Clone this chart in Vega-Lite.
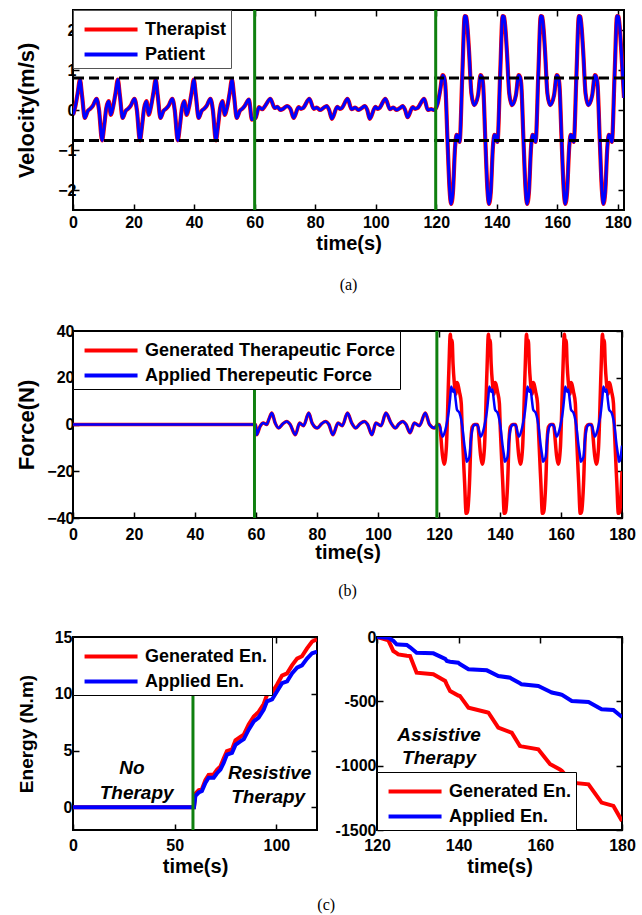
{
"$schema": "https://vega.github.io/schema/vega-lite/v6.json",
"background": "white",
"padding": {"left": 14, "top": 7, "right": 20, "bottom": 5},
"columns": 1,
"align": "none",
"spacing": 28,
"resolve": {"scale": {"color": "independent"}, "legend": {"color": "independent"}},
"config": {
  "view": {"stroke": "black", "strokeWidth": 2},
  "axis": {"labelFont": "Liberation Sans", "labelFontSize": 16, "labelFontWeight": "bold", "labelColor": "black", "titleFont": "Liberation Sans", "titleFontWeight": "bold", "titleColor": "black", "titleFontSize": 20, "domain": false, "grid": false, "tickColor": "black", "tickWidth": 1.5, "tickSize": -6, "labelPadding": 4, "labelFlush": false, "labelOverlap": false},
  "axisX": {"labelPadding": 10, "titlePadding": 3},
  "legend": {"title": null, "offset": 0, "symbolType": "M-0.6,0H3.4", "symbolStrokeWidth": 4, "symbolSize": 702, "labelFont": "Liberation Sans", "labelFontSize": 18, "labelFontWeight": "bold", "labelColor": "black", "labelLimit": 600, "fillColor": "white", "strokeColor": "black", "padding": 4, "rowPadding": -1, "labelOffset": 37},
  "title": {"font": "Liberation Serif", "fontSize": 16, "fontWeight": "normal", "color": "black", "anchor": "middle"}
},
"datasets": {
  "vel": [
    {"t":0,"v":-0.12},{"t":0.8,"v":0.1},{"t":1.6,"v":0.45},{"t":2.3,"v":0.76},{"t":3.0,"v":0.35},{"t":3.9,"v":-0.2},{"t":4.9,"v":-0.02},{"t":5.7,"v":0.03},{"t":6.5,"v":0.1},{"t":7.8,"v":0.28},{"t":8.6,"v":0.0},{"t":9.6,"v":-0.76},{"t":10.3,"v":-0.4},{"t":11.0,"v":0.05},{"t":11.8,"v":0.22},{"t":12.5,"v":-0.12},
    {"t":13.3,"v":0.1},{"t":14.1,"v":0.45},{"t":14.8,"v":0.76},{"t":15.5,"v":0.35},{"t":16.4,"v":-0.2},{"t":17.4,"v":-0.02},{"t":18.2,"v":0.03},{"t":19.0,"v":0.1},{"t":20.3,"v":0.28},{"t":21.1,"v":0.0},{"t":22.1,"v":-0.76},{"t":22.8,"v":-0.4},{"t":23.5,"v":0.05},{"t":24.3,"v":0.22},{"t":25.0,"v":-0.12},
    {"t":25.8,"v":0.1},{"t":26.6,"v":0.45},{"t":27.3,"v":0.76},{"t":28.0,"v":0.35},{"t":28.9,"v":-0.2},{"t":29.9,"v":-0.02},{"t":30.7,"v":0.03},{"t":31.5,"v":0.1},{"t":32.8,"v":0.28},{"t":33.6,"v":0.0},{"t":34.6,"v":-0.76},{"t":35.3,"v":-0.4},{"t":36.0,"v":0.05},{"t":36.8,"v":0.22},{"t":37.5,"v":-0.12},
    {"t":38.4,"v":0.1},{"t":39.2,"v":0.45},{"t":39.9,"v":0.76},{"t":40.6,"v":0.35},{"t":41.5,"v":-0.2},{"t":42.5,"v":-0.02},{"t":43.3,"v":0.03},{"t":44.1,"v":0.1},{"t":45.4,"v":0.28},{"t":46.2,"v":0.0},{"t":47.2,"v":-0.76},{"t":47.9,"v":-0.4},{"t":48.6,"v":0.05},{"t":49.4,"v":0.22},{"t":50.1,"v":-0.12},
    {"t":51.0,"v":0.1},{"t":51.8,"v":0.45},{"t":52.5,"v":0.76},{"t":53.2,"v":0.35},{"t":54.1,"v":-0.2},{"t":55.1,"v":-0.02},{"t":55.9,"v":0.03},{"t":56.7,"v":0.1},{"t":58.1,"v":0.26},{"t":59.1,"v":-0.24},{"t":60.3,"v":-0.2},
    {"t":61.4,"v":0.07},{"t":62.5,"v":0.02},{"t":63.6,"v":0.12},{"t":65.2,"v":0.28},{"t":66.6,"v":0.05},{"t":67.5,"v":0.08},{"t":68.5,"v":0.0},{"t":69.6,"v":0.04},{"t":70.7,"v":0.1},{"t":71.8,"v":0.03},{"t":72.9,"v":-0.2},{"t":74.5,"v":0.07},{"t":75.3,"v":0.03},{"t":76.0,"v":0.05},{"t":78.1,"v":0.28},{"t":79.5,"v":0.03},{"t":80.5,"v":0.06},{"t":81.6,"v":0.0},{"t":82.7,"v":0.05},{"t":83.8,"v":0.1},{"t":84.6,"v":0.0},{"t":85.5,"v":-0.22},{"t":87.3,"v":0.08},{"t":88.1,"v":0.03},{"t":88.8,"v":0.05},{"t":90.7,"v":0.28},{"t":92.0,"v":0.02},{"t":93.2,"v":0.06},{"t":94.3,"v":0.0},{"t":95.4,"v":0.05},{"t":96.3,"v":0.1},{"t":97.2,"v":0.0},{"t":98.0,"v":-0.22},{"t":99.9,"v":0.08},{"t":100.6,"v":0.03},{"t":101.2,"v":0.05},{"t":103.2,"v":0.28},{"t":104.7,"v":0.02},{"t":105.8,"v":0.06},{"t":106.9,"v":0.0},{"t":108.0,"v":0.05},{"t":108.9,"v":0.1},{"t":109.7,"v":0.0},{"t":110.5,"v":-0.18},{"t":112.2,"v":0.07},{"t":113.0,"v":0.03},{"t":113.8,"v":0.05},{"t":116.0,"v":0.28},{"t":117.2,"v":0.0},{"t":118.3,"v":0.02},{"t":119.3,"v":0.0},{"t":120.4,"v":0.15},{"t":121.3,"v":0.5},
    {"t":122.1,"v":0.87},{"t":122.6,"v":0.82},{"t":123.0,"v":0.6},{"t":123.7,"v":-0.76},{"t":124.4,"v":-2.0},{"t":124.9,"v":-2.35},{"t":125.5,"v":-2.05},{"t":126.2,"v":-0.93},{"t":126.7,"v":-0.62},{"t":127.1,"v":-0.65},{"t":127.7,"v":-0.8},{"t":128.6,"v":0.9},{"t":129.4,"v":2.35},{"t":129.9,"v":2.33},{"t":130.8,"v":1.49},{"t":131.6,"v":0.41},{"t":132.5,"v":0.12},{"t":133.8,"v":0.37},
    {"t":134.6,"v":0.87},{"t":135.1,"v":0.82},{"t":135.5,"v":0.6},{"t":136.2,"v":-0.76},{"t":136.9,"v":-2.0},{"t":137.4,"v":-2.35},{"t":138.0,"v":-2.05},{"t":138.7,"v":-0.93},{"t":139.2,"v":-0.62},{"t":139.6,"v":-0.65},{"t":140.2,"v":-0.8},{"t":141.1,"v":0.9},{"t":141.9,"v":2.35},{"t":142.4,"v":2.33},{"t":143.3,"v":1.49},{"t":144.1,"v":0.41},{"t":145.0,"v":0.12},{"t":146.3,"v":0.37},
    {"t":147.2,"v":0.87},{"t":147.7,"v":0.82},{"t":148.1,"v":0.6},{"t":148.8,"v":-0.76},{"t":149.5,"v":-2.0},{"t":150.0,"v":-2.35},{"t":150.6,"v":-2.05},{"t":151.3,"v":-0.93},{"t":151.8,"v":-0.62},{"t":152.2,"v":-0.65},{"t":152.8,"v":-0.8},{"t":153.7,"v":0.9},{"t":154.5,"v":2.35},{"t":155.0,"v":2.33},{"t":155.9,"v":1.49},{"t":156.7,"v":0.41},{"t":157.6,"v":0.12},{"t":158.9,"v":0.37},
    {"t":159.8,"v":0.87},{"t":160.3,"v":0.82},{"t":160.7,"v":0.6},{"t":161.4,"v":-0.76},{"t":162.1,"v":-2.0},{"t":162.6,"v":-2.35},{"t":163.2,"v":-2.05},{"t":163.9,"v":-0.93},{"t":164.4,"v":-0.62},{"t":164.8,"v":-0.65},{"t":165.4,"v":-0.8},{"t":166.3,"v":0.9},{"t":167.1,"v":2.35},{"t":167.6,"v":2.33},{"t":168.5,"v":1.49},{"t":169.3,"v":0.41},{"t":170.2,"v":0.12},{"t":171.5,"v":0.37},
    {"t":172.4,"v":0.87},{"t":172.9,"v":0.82},{"t":173.3,"v":0.6},{"t":174.0,"v":-0.76},{"t":174.7,"v":-2.0},{"t":175.2,"v":-2.35},{"t":175.8,"v":-2.05},{"t":176.5,"v":-0.93},{"t":177.0,"v":-0.62},{"t":177.4,"v":-0.65},{"t":178.0,"v":-0.8},{"t":178.9,"v":0.9},{"t":179.7,"v":2.35},{"t":180.2,"v":2.33},{"t":181.1,"v":1.49},{"t":182.0,"v":0.3}
  ],
  "dashA": [{"y": 0.8}, {"y": -0.76}],
  "greenA": [{"x": 60}, {"x": 119.8}],
  "greenB": [{"x": 59.5}, {"x": 119.3}],
  "greenC": [{"x": 59}],
  "force": [
    {"t":0,"g":0,"a":0},{"t":59.9,"g":0,"a":0},
    {"t":60.2,"g":-4.4,"a":-4.4},{"t":61.3,"g":-0.9,"a":-0.9},{"t":62.4,"g":0.6,"a":0.6},{"t":63.5,"g":0,"a":0},{"t":64.3,"g":2.5,"a":2.5},{"t":65.2,"g":4.9,"a":4.9},{"t":66.3,"g":0.6,"a":0.6},{"t":67.4,"g":-1.5,"a":-1.5},{"t":68.8,"g":0.3,"a":0.3},{"t":70.1,"g":1.3,"a":1.3},{"t":71.2,"g":0,"a":0},{"t":72.9,"g":-4.4,"a":-4.4},{"t":74.3,"g":0.6,"a":0.6},{"t":75.6,"g":-0.5,"a":-0.5},{"t":77.3,"g":4.9,"a":4.9},{"t":78.4,"g":0.6,"a":0.6},{"t":80.1,"g":-1.5,"a":-1.5},{"t":81.5,"g":0.3,"a":0.3},{"t":82.8,"g":1.3,"a":1.3},{"t":83.9,"g":0,"a":0},{"t":85.2,"g":-4.4,"a":-4.4},{"t":86.9,"g":0.6,"a":0.6},{"t":88.3,"g":-0.5,"a":-0.5},{"t":90.0,"g":4.9,"a":4.9},{"t":91.4,"g":0.6,"a":0.6},{"t":92.7,"g":-1.5,"a":-1.5},{"t":94.1,"g":0.3,"a":0.3},{"t":95.5,"g":1.3,"a":1.3},{"t":96.6,"g":0,"a":0},{"t":98.0,"g":-4.4,"a":-4.4},{"t":99.3,"g":0.6,"a":0.6},{"t":101.0,"g":-0.5,"a":-0.5},{"t":102.6,"g":4.9,"a":4.9},{"t":104.3,"g":0.6,"a":0.6},{"t":105.7,"g":-1.5,"a":-1.5},{"t":106.9,"g":0.3,"a":0.3},{"t":108.1,"g":1.3,"a":1.3},{"t":109.2,"g":0,"a":0},{"t":110.5,"g":-3.5,"a":-3.5},{"t":111.9,"g":0.6,"a":0.6},{"t":113.6,"g":-0.5,"a":-0.5},{"t":115.5,"g":4.9,"a":4.9},{"t":116.9,"g":0,"a":0},{"t":118.5,"g":-1.5,"a":-1.5},{"t":119.6,"g":0,"a":0},
    {"t":120.1,"g":0,"a":-0.3},{"t":121.2,"g":-13.8,"a":-5.2},{"t":121.7,"g":-17,"a":-4},{"t":122.4,"g":-10,"a":-0.5},{"t":123.2,"g":22,"a":5.6},{"t":123.7,"g":38.6,"a":12},{"t":124.0,"g":34,"a":16.3},{"t":124.3,"g":36,"a":15},{"t":124.6,"g":26,"a":14},{"t":125.0,"g":18,"a":15},{"t":125.5,"g":13,"a":10},{"t":125.9,"g":18,"a":6.3},{"t":126.7,"g":14,"a":5.0},{"t":127.3,"g":9,"a":2},{"t":127.6,"g":-2,"a":-0.5},{"t":128.4,"g":-25,"a":-9.5},{"t":128.9,"g":-38,"a":-14},{"t":129.1,"g":-38,"a":-15.9},{"t":129.4,"g":-37,"a":-15.5},{"t":130.0,"g":-25,"a":-13.7},{"t":130.5,"g":-6,"a":-6},{"t":130.9,"g":-1,"a":-2.3},{"t":131.7,"g":0,"a":0},
    {"t":132.6,"g":0,"a":-0.3},{"t":133.7,"g":-13.8,"a":-5.2},{"t":134.2,"g":-17,"a":-4},{"t":134.9,"g":-10,"a":-0.5},{"t":135.7,"g":22,"a":5.6},{"t":136.2,"g":38.6,"a":12},{"t":136.5,"g":34,"a":16.3},{"t":136.8,"g":36,"a":15},{"t":137.1,"g":26,"a":14},{"t":137.5,"g":18,"a":15},{"t":138.0,"g":13,"a":10},{"t":138.4,"g":18,"a":6.3},{"t":139.2,"g":14,"a":5.0},{"t":139.8,"g":9,"a":2},{"t":140.1,"g":-2,"a":-0.5},{"t":140.9,"g":-25,"a":-9.5},{"t":141.4,"g":-38,"a":-14},{"t":141.6,"g":-38,"a":-15.9},{"t":141.9,"g":-37,"a":-15.5},{"t":142.5,"g":-25,"a":-13.7},{"t":143.0,"g":-6,"a":-6},{"t":143.4,"g":-1,"a":-2.3},{"t":144.2,"g":0,"a":0},
    {"t":145.1,"g":0,"a":-0.3},{"t":146.2,"g":-13.8,"a":-5.2},{"t":146.7,"g":-17,"a":-4},{"t":147.4,"g":-10,"a":-0.5},{"t":148.2,"g":22,"a":5.6},{"t":148.7,"g":38.6,"a":12},{"t":149.0,"g":34,"a":16.3},{"t":149.3,"g":36,"a":15},{"t":149.6,"g":26,"a":14},{"t":150.0,"g":18,"a":15},{"t":150.5,"g":13,"a":10},{"t":150.9,"g":18,"a":6.3},{"t":151.7,"g":14,"a":5.0},{"t":152.3,"g":9,"a":2},{"t":152.6,"g":-2,"a":-0.5},{"t":153.4,"g":-25,"a":-9.5},{"t":153.9,"g":-38,"a":-14},{"t":154.1,"g":-38,"a":-15.9},{"t":154.4,"g":-37,"a":-15.5},{"t":155.0,"g":-25,"a":-13.7},{"t":155.5,"g":-6,"a":-6},{"t":155.9,"g":-1,"a":-2.3},{"t":156.7,"g":0,"a":0},
    {"t":157.5,"g":0,"a":-0.3},{"t":158.6,"g":-13.8,"a":-5.2},{"t":159.1,"g":-17,"a":-4},{"t":159.8,"g":-10,"a":-0.5},{"t":160.6,"g":22,"a":5.6},{"t":161.1,"g":38.6,"a":12},{"t":161.4,"g":34,"a":16.3},{"t":161.7,"g":36,"a":15},{"t":162.0,"g":26,"a":14},{"t":162.4,"g":18,"a":15},{"t":162.9,"g":13,"a":10},{"t":163.3,"g":18,"a":6.3},{"t":164.1,"g":14,"a":5.0},{"t":164.7,"g":9,"a":2},{"t":165.0,"g":-2,"a":-0.5},{"t":165.8,"g":-25,"a":-9.5},{"t":166.3,"g":-38,"a":-14},{"t":166.5,"g":-38,"a":-15.9},{"t":166.8,"g":-37,"a":-15.5},{"t":167.4,"g":-25,"a":-13.7},{"t":167.9,"g":-6,"a":-6},{"t":168.3,"g":-1,"a":-2.3},{"t":169.1,"g":0,"a":0},
    {"t":170.0,"g":0,"a":-0.3},{"t":171.1,"g":-13.8,"a":-5.2},{"t":171.6,"g":-17,"a":-4},{"t":172.3,"g":-10,"a":-0.5},{"t":173.1,"g":22,"a":5.6},{"t":173.6,"g":38.6,"a":12},{"t":173.9,"g":34,"a":16.3},{"t":174.2,"g":36,"a":15},{"t":174.5,"g":26,"a":14},{"t":174.9,"g":18,"a":15},{"t":175.4,"g":13,"a":10},{"t":175.8,"g":18,"a":6.3},{"t":176.6,"g":14,"a":5.0},{"t":177.2,"g":9,"a":2},{"t":177.5,"g":-2,"a":-0.5},{"t":178.3,"g":-25,"a":-9.5},{"t":178.8,"g":-38,"a":-14},{"t":179.0,"g":-38,"a":-15.9},{"t":179.3,"g":-37,"a":-15.5},{"t":180.0,"g":-20,"a":-9}
  ],
  "en1": [
    {"t":0,"g":0,"a":0},{"t":59.5,"g":0,"a":0},{"t":60.2,"g":1.2,"a":1.0},{"t":61.8,"g":1.5,"a":1.3},{"t":63.4,"g":1.6,"a":1.43},{"t":65.1,"g":2.4,"a":2.15},{"t":66.7,"g":2.85,"a":2.6},{"t":69.2,"g":2.9,"a":2.6},{"t":70.8,"g":3.3,"a":3.0},{"t":72.5,"g":3.6,"a":3.33},{"t":74.1,"g":4.3,"a":3.9},{"t":75.7,"g":4.95,"a":4.65},{"t":78.2,"g":5.1,"a":4.8},{"t":79.9,"g":5.9,"a":5.5},{"t":82.3,"g":6.2,"a":5.8},{"t":84.0,"g":6.4,"a":6.0},{"t":86.4,"g":7.3,"a":6.84},{"t":88.9,"g":8.0,"a":7.57},{"t":91.3,"g":8.4,"a":7.9},{"t":93.8,"g":9.1,"a":8.6},{"t":95.4,"g":9.9,"a":9.33},{"t":97.9,"g":10.1,"a":9.5},{"t":100.3,"g":10.8,"a":10.2},{"t":102.8,"g":11.6,"a":10.94},{"t":105.3,"g":11.8,"a":11.1},{"t":107.7,"g":12.5,"a":11.8},{"t":110.2,"g":13.1,"a":12.3},{"t":112.6,"g":13.3,"a":12.5},{"t":115.1,"g":14.0,"a":13.1},{"t":117.6,"g":14.6,"a":13.57},{"t":120,"g":14.8,"a":13.7}
  ],
  "en2": [
    {"t":120,"g":0,"a":0},{"t":122.8,"g":-26,"a":-5},{"t":124.0,"g":-109,"a":-30},{"t":124.8,"g":-125,"a":-57},{"t":125.2,"g":-135,"a":-58},{"t":127.3,"g":-145,"a":-62},{"t":128.1,"g":-148,"a":-80},{"t":129.7,"g":-277,"a":-122},{"t":133.8,"g":-290,"a":-127},{"t":136.7,"g":-342,"a":-170},{"t":137.1,"g":-370,"a":-186},{"t":137.9,"g":-420,"a":-192},{"t":139.9,"g":-455,"a":-200},{"t":140.3,"g":-458,"a":-210},{"t":142.4,"g":-549,"a":-251},{"t":146.9,"g":-585,"a":-259},{"t":147.3,"g":-588,"a":-265},{"t":149.7,"g":-705,"a":-303},{"t":152.6,"g":-740,"a":-316},{"t":153.0,"g":-744,"a":-325},{"t":155.0,"g":-847,"a":-360},{"t":155.4,"g":-850,"a":-368},{"t":159.5,"g":-873,"a":-381},{"t":162.4,"g":-989,"a":-425},{"t":162.8,"g":-995,"a":-432},{"t":164.8,"g":-1030,"a":-445},{"t":165.3,"g":-1041,"a":-450},{"t":167.7,"g":-1132,"a":-497},{"t":171.8,"g":-1145,"a":-505},{"t":175.0,"g":-1287,"a":-562},{"t":177.9,"g":-1313,"a":-567},{"t":180.0,"g":-1430,"a":-622}
  ],
  "txt1": [{"t":29,"e":3.5,"s":"No"},{"t":31.3,"e":1.3,"s":"Therapy"},{"t":96.7,"e":3.0,"s":"Resistive"},{"t":96,"e":0.9,"s":"Therapy"}],
  "txt2": [{"t":135.2,"e":-765,"s":"Assistive"},{"t":135.2,"e":-940,"s":"Therapy"}]
},
"concat": [
  {
    "width": 551, "height": 200,
    "title": {"text": "(a)", "orient": "bottom", "offset": 24},
    "resolve": {"axis": {"x": "independent", "y": "independent"}},
    "layer": [
      {"data": {"name": "vel"}, "mark": {"type": "line", "strokeWidth": 4.2, "clip": true, "interpolate": "monotone"},
       "encoding": {
         "x": {"field": "t", "type": "quantitative", "scale": {"domain": [0, 182], "nice": false, "zero": false}, "axis": {"values": [0,20,40,60,80,100,120,140,160,180], "title": "time(s)", "titleFontSize": 20}},
         "y": {"field": "v", "type": "quantitative", "scale": {"domain": [-2.5, 2.5], "nice": false, "zero": false}, "axis": {"values": [-2,-1,0,1,2], "title": "Velocity(m/s)", "titleFontSize": 22, "minExtent": 31, "maxExtent": 31, "titlePadding": 4, "labelPadding": 3}},
         "color": {"datum": "Therapist", "type": "nominal", "scale": {"domain": ["Therapist", "Patient"], "range": ["#ff0000", "#0000ff"]}, "legend": {"orient": "top-left", "strokeColor": "#555"}}
       }},
      {"data": {"name": "vel"}, "mark": {"type": "line", "strokeWidth": 3, "clip": true, "interpolate": "monotone"},
       "encoding": {"x": {"field": "t", "type": "quantitative", "axis": null}, "y": {"field": "v", "type": "quantitative", "axis": null}, "color": {"datum": "Patient", "type": "nominal"}}},
      {"data": {"name": "dashA"}, "mark": {"type": "rule", "strokeDash": [10, 5], "strokeWidth": 3, "color": "black"},
       "encoding": {"y": {"field": "y", "type": "quantitative", "axis": {"orient": "right", "values": [-2,-1,0,1,2], "labels": false, "title": null, "minExtent": 0, "maxExtent": 0}}}},
      {"data": {"name": "greenA"}, "mark": {"type": "rule", "strokeWidth": 3, "color": "#0f800f"},
       "encoding": {"x": {"field": "x", "type": "quantitative", "axis": {"orient": "top", "values": [0,20,40,60,80,100,120,140,160,180], "labels": false, "title": null, "minExtent": 0, "maxExtent": 0}}}}
    ]
  },
  {
    "width": 549, "height": 187,
    "title": {"text": "(b)", "orient": "bottom", "offset": 21},
    "resolve": {"axis": {"x": "independent", "y": "independent"}},
    "layer": [
      {"data": {"name": "force"}, "mark": {"type": "line", "strokeWidth": 3.5, "clip": true, "interpolate": "monotone"},
       "encoding": {
         "x": {"field": "t", "type": "quantitative", "scale": {"domain": [0, 180], "nice": false, "zero": false}, "axis": {"values": [0,20,40,60,80,100,120,140,160,180], "title": "time(s)", "titleFontSize": 20, "labelPadding": 14, "titlePadding": 0}},
         "y": {"field": "g", "type": "quantitative", "scale": {"domain": [-40, 40], "nice": false, "zero": false}, "axis": {"values": [-40,-20,0,20,40], "title": "Force(N)", "titleFontSize": 22, "minExtent": 30, "maxExtent": 30, "titlePadding": 5, "labelPadding": 5}},
         "color": {"datum": "Generated Therapeutic Force", "type": "nominal", "scale": {"domain": ["Generated Therapeutic Force", "Applied Therepeutic Force"], "range": ["#ff0000", "#0000ff"]}, "legend": {"orient": "top-left"}}
       }},
      {"data": {"name": "force"}, "mark": {"type": "line", "strokeWidth": 2.5, "clip": true, "interpolate": "monotone"},
       "encoding": {"x": {"field": "t", "type": "quantitative", "axis": null}, "y": {"field": "a", "type": "quantitative", "axis": {"orient": "right", "values": [-40,-20,0,20,40], "labels": false, "title": null, "minExtent": 0, "maxExtent": 0}}, "color": {"datum": "Applied Therepeutic Force", "type": "nominal"}}},
      {"data": {"name": "greenB"}, "mark": {"type": "rule", "strokeWidth": 3, "color": "#0f800f"},
       "encoding": {"x": {"field": "x", "type": "quantitative", "axis": {"orient": "top", "values": [0,20,40,60,80,100,120,140,160,180], "labels": false, "title": null, "minExtent": 0, "maxExtent": 0}}}}
    ]
  },
  {
    "title": {"text": "(c)", "orient": "bottom", "offset": 20, "anchor": "middle"},
    "spacing": 1,
    "resolve": {"scale": {"color": "independent"}, "legend": {"color": "independent"}},
    "hconcat": [
      {
        "width": 244, "height": 193,
        "resolve": {"axis": {"x": "independent", "y": "independent"}},
        "layer": [
          {"data": {"name": "en1"}, "mark": {"type": "line", "strokeWidth": 4, "clip": true},
           "encoding": {
             "x": {"field": "t", "type": "quantitative", "scale": {"domain": [0, 120], "nice": false, "zero": false}, "axis": {"values": [0, 50, 100], "title": "time(s)", "titleFontSize": 20, "labelPadding": 13}},
             "y": {"field": "g", "type": "quantitative", "scale": {"domain": [-2, 15], "nice": false, "zero": false}, "axis": {"values": [0, 5, 10, 15], "title": "Energy (N.m)", "titleFontSize": 19, "minExtent": 32, "maxExtent": 32, "titlePadding": 5, "labelPadding": 7}},
             "color": {"datum": "Generated En.", "type": "nominal", "scale": {"domain": ["Generated En.", "Applied En."], "range": ["#ff0000", "#0000ff"]}, "legend": {"orient": "top-left"}}
           }},
          {"data": {"name": "en1"}, "mark": {"type": "line", "strokeWidth": 4, "clip": true},
           "encoding": {"x": {"field": "t", "type": "quantitative", "axis": null}, "y": {"field": "a", "type": "quantitative", "axis": {"orient": "right", "values": [0, 5, 10, 15], "labels": false, "title": null, "minExtent": 0, "maxExtent": 0}}, "color": {"datum": "Applied En.", "type": "nominal"}}},
          {"data": {"name": "greenC"}, "mark": {"type": "rule", "strokeWidth": 3, "color": "#0f800f"},
           "encoding": {"x": {"field": "x", "type": "quantitative", "axis": {"orient": "top", "values": [0, 50, 100], "labels": false, "title": null, "minExtent": 0, "maxExtent": 0}}}},
          {"data": {"name": "txt1"}, "mark": {"type": "text", "font": "Liberation Sans", "fontSize": 19, "fontWeight": "bold", "fontStyle": "italic", "color": "black", "align": "center", "baseline": "middle"},
           "encoding": {"x": {"field": "t", "type": "quantitative", "axis": null}, "y": {"field": "e", "type": "quantitative", "axis": null}, "text": {"field": "s"}}}
        ]
      },
      {
        "width": 245, "height": 193,
        "resolve": {"axis": {"x": "independent", "y": "independent"}},
        "layer": [
          {"data": {"name": "en2"}, "mark": {"type": "line", "strokeWidth": 4, "clip": true},
           "encoding": {
             "x": {"field": "t", "type": "quantitative", "scale": {"domain": [120, 180], "nice": false, "zero": false}, "axis": {"values": [120, 140, 160, 180], "title": "time(s)", "titleFontSize": 20, "labelPadding": 13}},
             "y": {"field": "g", "type": "quantitative", "scale": {"domain": [-1500, 0], "nice": false, "zero": false}, "axis": {"values": [0, -500, -1000, -1500], "title": null, "minExtent": 56, "maxExtent": 56, "labelPadding": 7, "labelExpr": "'' + datum.value"}},
             "color": {"datum": "Generated En.", "type": "nominal", "scale": {"domain": ["Generated En.", "Applied En."], "range": ["#ff0000", "#0000ff"]}, "legend": {"orient": "bottom-left"}}
           }},
          {"data": {"name": "en2"}, "mark": {"type": "line", "strokeWidth": 4, "clip": true},
           "encoding": {"x": {"field": "t", "type": "quantitative", "axis": null}, "y": {"field": "a", "type": "quantitative", "axis": {"orient": "right", "values": [0, -500, -1000, -1500], "labels": false, "title": null, "minExtent": 0, "maxExtent": 0}}, "color": {"datum": "Applied En.", "type": "nominal"}}},
          {"data": {"name": "txt2"}, "mark": {"type": "text", "font": "Liberation Sans", "fontSize": 19, "fontWeight": "bold", "fontStyle": "italic", "color": "black", "align": "center", "baseline": "middle"},
           "encoding": {"x": {"field": "t", "type": "quantitative", "axis": {"orient": "top", "values": [120, 140, 160, 180], "labels": false, "title": null, "minExtent": 0, "maxExtent": 0}}, "y": {"field": "e", "type": "quantitative", "axis": null}, "text": {"field": "s"}}}
        ]
      }
    ]
  }
]
}
